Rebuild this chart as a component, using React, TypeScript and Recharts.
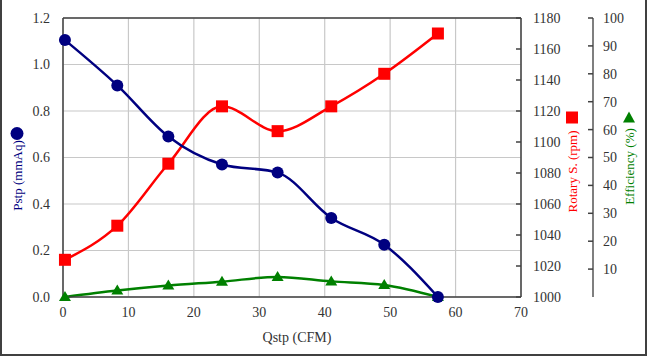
import React from 'react';
import {
  ComposedChart,
  Line,
  XAxis,
  YAxis,
  CartesianGrid,
  ReferenceLine,
} from 'recharts';

const qstp = [0.3, 8.3, 16.1, 24.3, 32.8, 41, 49.1, 57.3];
const pstp = [1.105, 0.91, 0.69, 0.57, 0.535, 0.34, 0.225, 0.0];
const rpm = [1024, 1046, 1086, 1123, 1107, 1123, 1144, 1170];
const eff = [0, 2.3, 4.1, 5.5, 7.2, 5.6, 4.3, 0];

const xTicks = [0, 10, 20, 30, 40, 50, 60, 70];
const pTicks = [0, 0.2, 0.4, 0.6, 0.8, 1.0, 1.2];
const rTicks = [1000, 1020, 1040, 1060, 1080, 1100, 1120, 1140, 1160, 1180];
const eTicks = [10, 20, 30, 40, 50, 60, 70, 80, 90, 100];

const data = qstp.map((q, i) => ({ q, p: pstp[i], r: rpm[i], e: eff[i] }));

const FONT = '"Liberation Serif", "Times New Roman", serif';
const NAVY = '#000080';
const RED = '#ff0000';
const GREEN = '#008000';
const AXIS = '#404040';
const TXT = '#333';

const CircleDot = (props: any) => {
  const { cx, cy, index } = props;
  return <circle key={`c${index}`} cx={cx} cy={cy} r={6} fill={NAVY} />;
};

const SquareDot = (props: any) => {
  const { cx, cy, index } = props;
  return <rect key={`s${index}`} x={cx - 6} y={cy - 6} width={12} height={12} fill={RED} />;
};

const TriangleDot = (props: any) => {
  const { cx, cy, index } = props;
  return (
    <path
      key={`t${index}`}
      d={`M${cx},${cy - 6} L${cx + 6},${cy + 4} L${cx - 6},${cy + 4} Z`}
      fill={GREEN}
    />
  );
};

// right-side ticks drawn pointing into the plot (left of the axis line)
const InwardTick = (props: any) => {
  const { x, y, payload, margin } = props;
  const ax = x - margin;
  return (
    <g>
      <line x1={ax - 5} y1={y} x2={ax} y2={y} stroke={AXIS} strokeWidth={1.5} />
      <text x={x} y={y} dy="0.35em" textAnchor="start" fontSize={14} fill={TXT} fontFamily={FONT}>
        {payload.value}
      </text>
    </g>
  );
};

const LeftTick = (props: any) => {
  const { x, y, payload } = props;
  return (
    <text x={x} y={y} dy="0.35em" textAnchor="end" fontSize={14} fill={TXT} fontFamily={FONT}>
      {Number(payload.value).toFixed(1)}
    </text>
  );
};

const BottomTick = (props: any) => {
  const { x, y, payload } = props;
  return (
    <text x={x} y={y} dy="0.75em" textAnchor="middle" fontSize={14} fill={TXT} fontFamily={FONT}>
      {payload.value}
    </text>
  );
};

const PTitle = (props: any) => {
  const { x, y, height } = props.viewBox;
  const cx = x + 17;
  const cy = y + height / 2;
  return (
    <g>
      <circle cx={cx} cy={cy - 24} r={6.5} fill={NAVY} />
      <text
        x={cx}
        y={cy + 18}
        transform={`rotate(-90 ${cx} ${cy + 18})`}
        textAnchor="middle"
        dominantBaseline="central"
        fontSize={13}
        fill={NAVY}
        fontFamily={FONT}
      >
        Pstp (mmAq)
      </text>
    </g>
  );
};

const RTitle = (props: any) => {
  const { x, y, height } = props.viewBox;
  const cx = x + 51;
  const cy = y + height / 2;
  return (
    <g>
      <rect x={cx - 6} y={cy - 46} width={12} height={12} fill={RED} />
      <text
        x={cx}
        y={cy + 14}
        transform={`rotate(-90 ${cx} ${cy + 14})`}
        textAnchor="middle"
        dominantBaseline="central"
        fontSize={13}
        fill={RED}
        fontFamily={FONT}
      >
        Rotary S. (rpm)
      </text>
    </g>
  );
};

const ETitle = (props: any) => {
  const { x, y, height } = props.viewBox;
  const cx = x + 36;
  const cy = y + height / 2;
  return (
    <g>
      <path d={`M${cx},${cy - 46} L${cx + 6},${cy - 35} L${cx - 6},${cy - 35} Z`} fill={GREEN} />
      <text
        x={cx}
        y={cy + 9}
        transform={`rotate(-90 ${cx} ${cy + 9})`}
        textAnchor="middle"
        dominantBaseline="central"
        fontSize={13}
        fill={GREEN}
        fontFamily={FONT}
      >
        Efficiency (%)
      </text>
    </g>
  );
};

const XTitle = (props: any) => {
  const { x, y, width } = props.viewBox;
  return (
    <text
      x={x + width / 2 + 5}
      y={y + 40}
      textAnchor="middle"
      dominantBaseline="central"
      fontSize={14}
      fill={TXT}
      fontFamily={FONT}
    >
      Qstp (CFM)
    </text>
  );
};

export default function App() {
  return (
    <div
      style={{
        position: 'fixed',
        left: 0,
        top: 0,
        width: 647,
        height: 356,
        background: '#fff',
        fontFamily: FONT,
      }}
    >
      <ComposedChart
        width={647}
        height={356}
        data={data}
        margin={{ top: 18, right: 0, bottom: 0, left: 0 }}
      >
        <CartesianGrid yAxisId="left" stroke="#c8c8c8" strokeWidth={1.2} />
        <XAxis
          dataKey="q"
          type="number"
          domain={[0, 70]}
          ticks={xTicks}
          height={59}
          tickSize={0}
          tickMargin={9}
          axisLine={{ stroke: AXIS, strokeWidth: 1.5 }}
          tick={<BottomTick />}
          label={<XTitle />}
        />
        <YAxis
          yAxisId="left"
          orientation="left"
          width={63}
          domain={[0, 1.2]}
          ticks={pTicks}
          tickSize={0}
          tickMargin={13}
          axisLine={{ stroke: AXIS, strokeWidth: 1.5 }}
          tick={<LeftTick />}
          label={<PTitle />}
        />
        <YAxis
          yAxisId="right1"
          orientation="right"
          width={72}
          domain={[1000, 1180]}
          ticks={rTicks}
          tickSize={0}
          tickMargin={12}
          axisLine={{ stroke: AXIS, strokeWidth: 1.5 }}
          tick={<InwardTick margin={12} />}
          label={<RTitle />}
        />
        <YAxis
          yAxisId="right2"
          orientation="right"
          width={54}
          domain={[0, 100]}
          ticks={eTicks}
          tickSize={0}
          tickMargin={10}
          axisLine={{ stroke: '#555', strokeWidth: 1.5 }}
          tick={<InwardTick margin={10} />}
          label={<ETitle />}
        />
        <ReferenceLine yAxisId="left" y={1.2} stroke={AXIS} strokeWidth={1.5} />
        <Line
          yAxisId="right2"
          type="monotone"
          dataKey="e"
          stroke={GREEN}
          strokeWidth={2.5}
          dot={TriangleDot}
          isAnimationActive={false}
        />
        <Line
          yAxisId="right1"
          type="monotone"
          dataKey="r"
          stroke={RED}
          strokeWidth={2.5}
          dot={SquareDot}
          isAnimationActive={false}
        />
        <Line
          yAxisId="left"
          type="monotone"
          dataKey="p"
          stroke={NAVY}
          strokeWidth={2.5}
          dot={CircleDot}
          isAnimationActive={false}
        />
      </ComposedChart>
      <div
        style={{
          position: 'absolute',
          inset: 0,
          borderLeft: '2px solid #404040',
          borderRight: '2px solid #404040',
          borderBottom: '2px solid #404040',
          pointerEvents: 'none',
        }}
      />
    </div>
  );
}
